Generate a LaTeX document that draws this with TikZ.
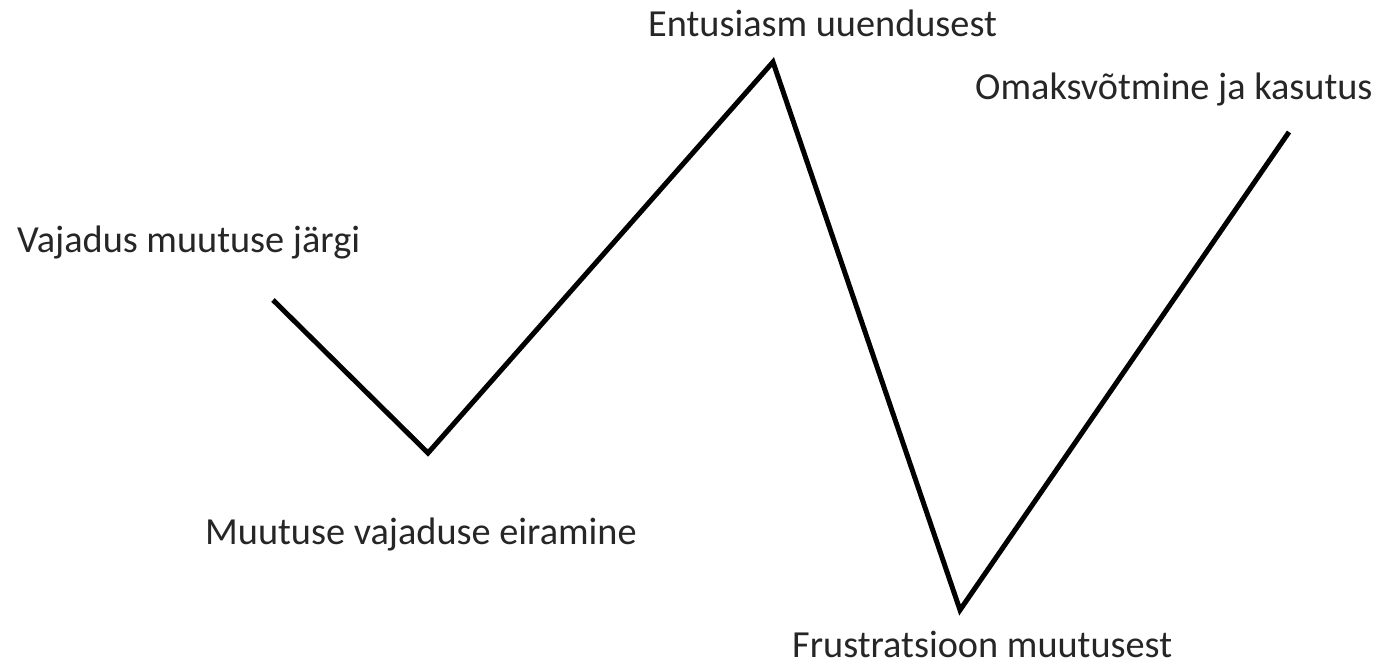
\documentclass[tikz,border=0pt]{standalone}
\usepackage{fontspec}
\setmainfont{Carlito}
\begin{document}
\begin{tikzpicture}[x=1pt,y=-1pt,
  lbl/.style={anchor=base west,inner sep=0pt,font=\fontsize{38.3}{44}\selectfont,text=black!85},
  curve/.style={line width=5pt,line join=miter,line cap=butt,black}]
\useasboundingbox (0,0) rectangle (1384,666);
\coordinate (p1) at (273,300);
\coordinate (p2) at (428,453);
\coordinate (p3) at (773,62);
\coordinate (p4) at (960,610);
\coordinate (p5) at (1289,132);
\draw[curve] (p1) -- (p2) -- (p3) -- (p4) -- (p5);
\node[lbl] (t1) at (17,252) {Vajadus muutuse järgi};
\node[lbl] (t2) at (648,37) {Entusiasm uuendusest};
\node[lbl] (t3) at (975,100) {Omaksvõtmine ja kasutus};
\node[lbl] (t4) at (205,544) {Muutuse vajaduse eiramine};
\node[lbl] (t5) at (792,657) {Frustratsioon muutusest};
\end{tikzpicture}
\end{document}
